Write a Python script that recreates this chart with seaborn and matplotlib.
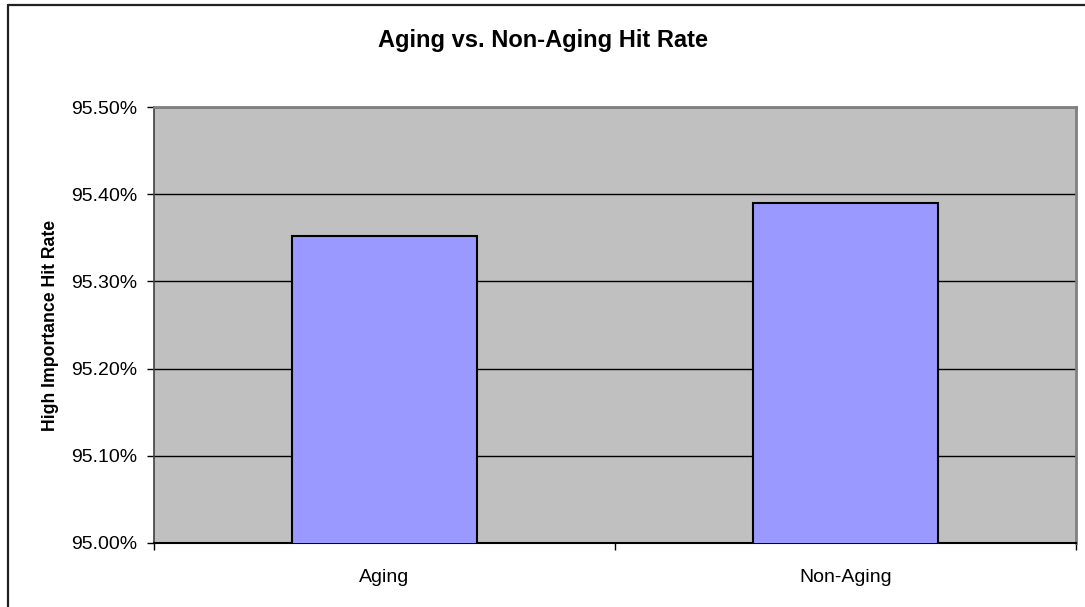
import matplotlib
matplotlib.use("Agg")
import matplotlib.pyplot as plt
import seaborn as sns
import pandas as pd
from matplotlib.lines import Line2D
from matplotlib.ticker import FuncFormatter, FixedLocator

# chart data
categories = ["Aging", "Non-Aging"]
hit_rates = [95.352, 95.390]
y_ticks = [95.00, 95.10, 95.20, 95.30, 95.40, 95.50]

df = pd.DataFrame({"group": categories, "rate": hit_rates})

sns.set_style("white")
plt.rcParams["font.family"] = ["Liberation Sans", "DejaVu Sans"]

fig = plt.figure(figsize=(10.85, 6.07), dpi=100)
ax = fig.add_axes([0.1419, 0.1059, 0.8498, 0.7173])
ax.set_facecolor("#C0C0C0")

sns.barplot(data=df, x="group", y="rate", color="#9999FF", width=0.4,
            edgecolor="black", linewidth=1.5, saturation=1, ax=ax, zorder=3)

ax.set_ylim(95.0, 95.5)
ax.set_xlim(-0.5, 1.5)
ax.yaxis.set_major_locator(FixedLocator(y_ticks))
ax.yaxis.set_major_formatter(FuncFormatter(lambda v, p: f"{v:.2f}%"))
ax.grid(axis="y", color="black", linewidth=1, zorder=1)
ax.set_axisbelow(True)

# category boundary ticks on the x axis, like Excel
ax.xaxis.set_minor_locator(FixedLocator([-0.5, 0.5, 1.5]))
ax.tick_params(axis="x", which="major", length=0, labelsize=14, labelcolor="black", pad=19)
ax.tick_params(axis="x", which="minor", length=5, width=1, color="black", direction="out", bottom=True)
ax.tick_params(axis="y", which="major", length=5, width=1, color="black", direction="out",
               left=True, labelsize=14, labelcolor="black", pad=7)

for side in ["top", "right"]:
    ax.spines[side].set_color("#808080")
    ax.spines[side].set_linewidth(2)
ax.spines["left"].set_color("#404040")
ax.spines["left"].set_linewidth(1.2)
ax.spines["bottom"].set_color("black")
ax.spines["bottom"].set_linewidth(1.5)

ax.set_xlabel("")
ax.set_ylabel("High Importance Hit Rate", fontsize=12.7, fontweight="bold", color="black", labelpad=9)
fig.text(0.5, 1 - 41 / 607, "Aging vs. Non-Aging Hit Rate", ha="center", va="center",
         fontsize=17, fontweight="bold", color="black")

# chart frame (only top and left edges are visible in the original crop)
fig.add_artist(Line2D([8 / 1085, 8 / 1085], [0, 1 - 5 / 607], color="#222222", linewidth=1.6,
                      transform=fig.transFigure))
fig.add_artist(Line2D([8 / 1085, 1], [1 - 5 / 607, 1 - 5 / 607], color="#222222", linewidth=1.6,
                      transform=fig.transFigure))

fig.savefig("out.png", dpi=100)
